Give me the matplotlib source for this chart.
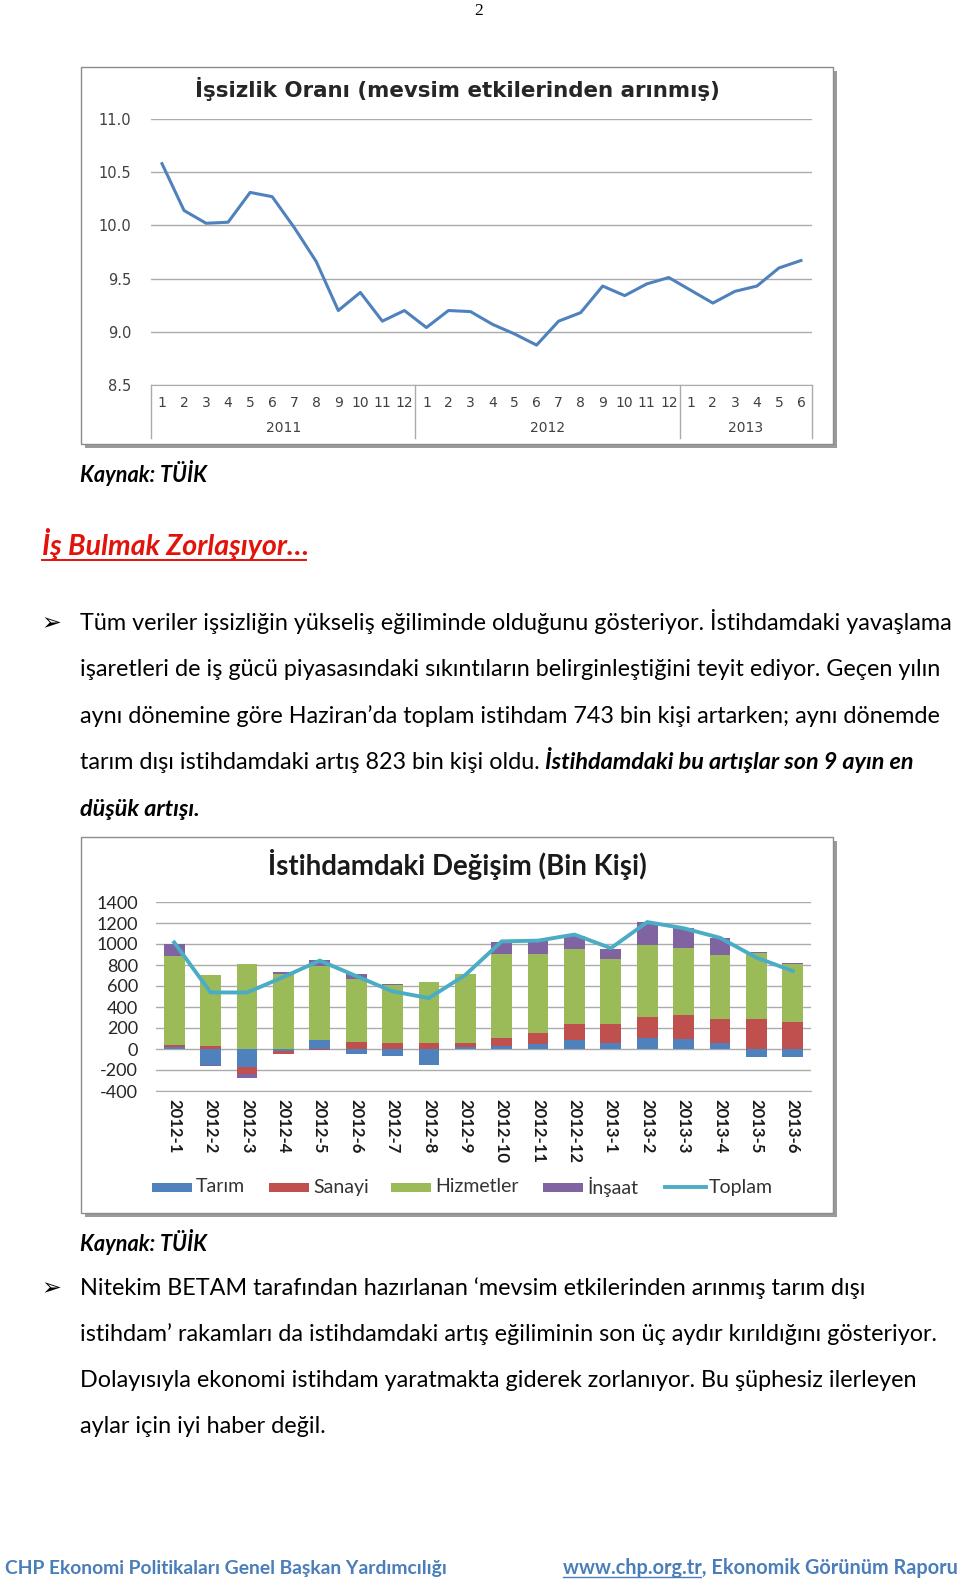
import numpy as np
import matplotlib
matplotlib.use('Agg')
import matplotlib.pyplot as plt
from matplotlib.patches import Rectangle
from matplotlib.textpath import TextPath
from matplotlib.font_manager import FontProperties

W, H = 960, 1580

# --- chart 1: unemployment rate (seasonally adjusted) ---
years = ['2011', '2012', '2013']
months_per_year = [12, 12, 6]
unemp = [10.58, 10.14, 10.02, 10.03, 10.31, 10.27, 9.98, 9.66, 9.20, 9.37, 9.10, 9.20,
         9.04, 9.20, 9.19, 9.07, 8.98, 8.875, 9.10, 9.18, 9.43, 9.34, 9.45, 9.51,
         9.39, 9.27, 9.38, 9.43, 9.60, 9.67]

# --- chart 2: change in employment (thousand people) ---
periods = ['2012-1', '2012-2', '2012-3', '2012-4', '2012-5', '2012-6', '2012-7', '2012-8',
           '2012-9', '2012-10', '2012-11', '2012-12', '2013-1', '2013-2', '2013-3',
           '2013-4', '2013-5', '2013-6']
tarim = [15, -150, -170, -15, 86, -45, -67, -156, 22, 32, 45, 86, 57, 102, 96, 54, -80, -80]
sanayi = [22, 32, -65, -35, -10, 64, 61, 61, 32, 70, 105, 153, 182, 201, 226, 236, 290, 255]
hizmetler = [845, 676, 813, 715, 708, 603, 552, 577, 660, 807, 753, 715, 619, 683, 638, 606, 625, 555]
insaat = [121, -16, -40, 20, 57, 48, 6, 2, 2, 112, 121, 121, 99, 223, 195, 163, 13, 13]
toplam = [1015, 539, 538, 685, 842, 695, 549, 485, 705, 1025, 1032, 1090, 960, 1209, 1150, 1059, 870, 743]
series_names = ['Tarım', 'Sanayi', 'Hizmetler', 'İnşaat']
series_colors = ['#4F81BD', '#C0504D', '#9BBB59', '#8064A2']

BODY = ['Lato', 'DejaVu Sans']


def fit(s, target, **kw):
    # font size (pt) that makes the ink width of s equal to target pixels
    prop = FontProperties(family=kw.get('family', BODY[0]), weight=kw.get('weight', 'normal'),
                          style=kw.get('style', 'normal'), size=100)
    w = TextPath((0, 0), s, prop=prop).get_extents().width
    return target * 72 / w


def width_px(s, size, **kw):
    prop = FontProperties(family=kw.get('family', BODY[0]), weight=kw.get('weight', 'normal'),
                          style=kw.get('style', 'normal'), size=100)
    return TextPath((0, 0), s, prop=prop).get_extents().width * size / 72


fig = plt.figure(figsize=(9.6, 15.8), dpi=100)
page = fig.add_axes([0, 0, 1, 1], zorder=0)
page.set_xlim(0, W)
page.set_ylim(H, 0)
page.axis('off')


def frame(x0, y0, x1, y1):
    page.add_patch(Rectangle((x0 + 4, y0 + 4), x1 - x0, y1 - y0, facecolor='#9A9A9A', edgecolor='none'))
    page.add_patch(Rectangle((x0, y0), x1 - x0, y1 - y0, facecolor='white', edgecolor='#8C8C8C', lw=1))


frame(81, 67, 833, 444)
frame(81, 837, 833, 1213)

# page number
page.text(479, 15, '2', family='Liberation Serif', fontsize=12.5, ha='center', va='baseline')

# ---------------- chart 1 ----------------
ax1 = fig.add_axes([151 / W, 1 - 385 / H, 661 / W, 266 / H], zorder=2)
ax1.patch.set_visible(False)
n1 = len(unemp)
ax1.plot(np.arange(n1), unemp, color='#4F81BD', lw=2.2, solid_joinstyle='round')
ax1.set_xlim(-0.5, n1 - 0.5)
ax1.set_ylim(8.5, 11.0)
yt = np.arange(8.5, 11.01, 0.5)
ax1.set_yticks(yt)
ax1.set_yticklabels(['%.1f' % v for v in yt], family='DejaVu Sans', fontsize=10.5, color='#404040')
month_lbls = []
for m in months_per_year:
    month_lbls += [str(i) for i in range(1, m + 1)]
ax1.set_xticks(np.arange(n1))
ax1.set_xticklabels(month_lbls, family='DejaVu Sans', fontsize=10, color='#404040')
ax1.tick_params(length=0)
ax1.tick_params(axis='y', pad=14)
ax1.tick_params(axis='x', pad=8)
ax1.yaxis.grid(True, color='#ABABAB', lw=1)
ax1.set_axisbelow(True)
for s in ['top', 'right', 'left']:
    ax1.spines[s].set_visible(False)
ax1.spines['bottom'].set_color('#ABABAB')
tr = ax1.get_xaxis_transform()
edges = np.concatenate([[0], np.cumsum(months_per_year)]) - 0.5
for e in edges:
    ax1.plot([e, e], [0, -53 / 266], transform=tr, color='#ABABAB', lw=1, clip_on=False)
for i, y in enumerate(years):
    ax1.text((edges[i] + edges[i + 1]) / 2, -43 / 266, y, transform=tr, ha='center', va='center',
             family='DejaVu Sans', fontsize=10, color='#404040')
t1 = 'İşsizlik Oranı (mevsim etkilerinden arınmış)'
page.text(457, 97, t1, ha='center', va='baseline', family='DejaVu Sans', weight='bold',
          fontsize=fit(t1, 522, family='DejaVu Sans', weight='bold'), color='#262626')

# ---------------- chart 2 ----------------
ax2 = fig.add_axes([156 / W, 1 - 1091 / H, 655 / W, 189 / H], zorder=2)
ax2.patch.set_visible(False)
n2 = len(periods)
x = np.arange(n2)
pos_b = np.zeros(n2)
neg_b = np.zeros(n2)
for vals, col in zip([tarim, sanayi, hizmetler, insaat], series_colors):
    v = np.array(vals, dtype=float)
    bottom = np.where(v >= 0, pos_b, neg_b)
    ax2.bar(x, v, 0.57, bottom=bottom, color=col, zorder=2)
    pos_b += np.clip(v, 0, None)
    neg_b += np.clip(v, None, 0)
ax2.plot(x, toplam, color='#4BACC6', lw=2.8, zorder=3, solid_joinstyle='round')
ax2.set_xlim(-0.5, n2 - 0.5)
ax2.set_ylim(-400, 1400)
yt2 = np.arange(-400, 1401, 200)
ax2.set_yticks(yt2)
ax2.set_yticklabels([str(v) for v in yt2], family=BODY, fontsize=13, color='#262626')
ax2.set_xticks(x)
ax2.set_xticklabels(periods, rotation=-90, family=BODY, weight='bold', fontsize=12, color='#1A1A1A',
                    va='top', ha='center')
ax2.tick_params(length=0)
ax2.tick_params(axis='y', pad=13)
ax2.tick_params(axis='x', pad=6)
ax2.yaxis.grid(True, color='#ABABAB', lw=1, zorder=0)
ax2.set_axisbelow(True)
for s in ['top', 'right', 'left']:
    ax2.spines[s].set_visible(False)
ax2.spines['bottom'].set_color('#ABABAB')
t2 = 'İstihdamdaki Değişim (Bin Kişi)'
page.text(457, 875, t2, ha='center', va='baseline', family=BODY, weight='bold',
          fontsize=fit(t2, 376, weight='bold'), color='#1A1A1A')

# legend
leg_size = fit('Hizmetler', 82)
leg_y = 1187
leg_x = [152, 269, 391, 543]
for lx, name, col in zip(leg_x, series_names, series_colors):
    page.add_patch(Rectangle((lx, leg_y - 4.5), 40, 9, facecolor=col, edgecolor='none'))
    page.text(lx + 44, leg_y, name, va='center', ha='left', family=BODY, fontsize=leg_size, color='#333333')
page.plot([665, 706], [leg_y, leg_y], color='#4BACC6', lw=2.8)
page.text(709, leg_y, 'Toplam', va='center', ha='left', family=BODY, fontsize=leg_size, color='#333333')

# ---------------- page text ----------------
body_size = fit('Tüm veriler işsizliğin yükseliş eğiliminde olduğunu gösteriyor. İstihdamdaki yavaşlama', 868)
kay_size = fit('Kaynak: TÜİK', 127, weight='bold', style='italic')
for yb in [482, 1251]:
    page.text(80, yb, 'Kaynak: TÜİK', family=BODY, weight='bold', style='italic', fontsize=kay_size,
              va='baseline')

head = 'İş Bulmak Zorlaşıyor…'
head_size = fit(head, 264, weight='bold', style='italic')
page.text(42, 555, head, family=BODY, weight='bold', style='italic', fontsize=head_size,
          color='#E3120B', va='baseline')
page.plot([42, 306], [560, 560], color='#E3120B', lw=1.4)

para1 = ['Tüm veriler işsizliğin yükseliş eğiliminde olduğunu gösteriyor. İstihdamdaki yavaşlama',
         'işaretleri de iş gücü piyasasındaki sıkıntıların belirginleştiğini teyit ediyor. Geçen yılın',
         'aynı dönemine göre Haziran’da toplam istihdam 743 bin kişi artarken; aynı dönemde',
         'tarım dışı istihdamdaki artış 823 bin kişi oldu.']
base1 = [630, 676, 723, 769]
for s, yb in zip(para1, base1):
    page.text(80, yb, s, family=BODY, fontsize=body_size, va='baseline')
page.text(545, base1[3], 'İstihdamdaki bu artışlar son 9 ayın en', family=BODY, weight='bold',
          style='italic', fontsize=body_size, va='baseline')
page.text(80, 816, 'düşük artışı.', family=BODY, weight='bold', style='italic', fontsize=body_size,
          va='baseline')

para2 = ['Nitekim BETAM tarafından hazırlanan ‘mevsim etkilerinden arınmış tarım dışı',
         'istihdam’ rakamları da istihdamdaki artış eğiliminin son üç aydır kırıldığını gösteriyor.',
         'Dolayısıyla ekonomi istihdam yaratmakta giderek zorlanıyor. Bu şüphesiz ilerleyen',
         'aylar için iyi haber değil.']
base2 = [1295, 1341, 1387, 1433]
for s, yb in zip(para2, base2):
    page.text(80, yb, s, family=BODY, fontsize=body_size, va='baseline')

for yb in [base1[0], base2[0]]:
    page.text(51, yb - 7, '➢', family='DejaVu Sans', fontsize=17, ha='center', va='center')

# footer
foot_col = '#4A7EBB'
left_foot = 'CHP Ekonomi Politikaları Genel Başkan Yardımcılığı'
right_foot = 'www.chp.org.tr, Ekonomik Görünüm Raporu'
foot_size = fit(left_foot, 439, weight='bold')
page.text(5, 1574, left_foot, family=BODY, weight='bold', fontsize=foot_size, color=foot_col, va='baseline')
rsize = fit(right_foot, 391, weight='bold')
page.text(563, 1574, right_foot, family=BODY, weight='bold', fontsize=rsize, color=foot_col, va='baseline')
uw = width_px('www.chp.org.tr', rsize, weight='bold')
page.plot([563, 563 + uw], [1577, 1577], color=foot_col, lw=1)

fig.savefig('out.png', dpi=100)
